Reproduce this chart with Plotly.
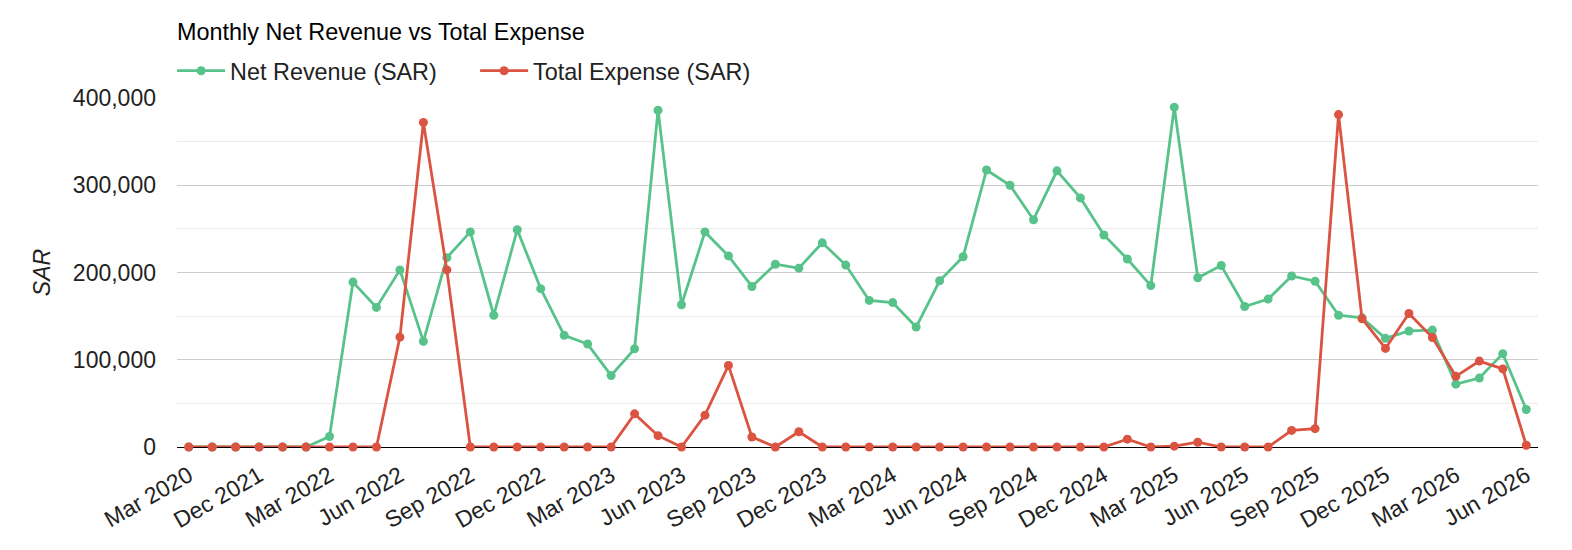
import plotly.graph_objects as go

months = [
    "Mar 2020", "Oct 2021", "Nov 2021", "Dec 2021", "Jan 2022", "Feb 2022",
    "Mar 2022", "Apr 2022", "May 2022", "Jun 2022", "Jul 2022", "Aug 2022",
    "Sep 2022", "Oct 2022", "Nov 2022", "Dec 2022", "Jan 2023", "Feb 2023",
    "Mar 2023", "Apr 2023", "May 2023", "Jun 2023", "Jul 2023", "Aug 2023",
    "Sep 2023", "Oct 2023", "Nov 2023", "Dec 2023", "Jan 2024", "Feb 2024",
    "Mar 2024", "Apr 2024", "May 2024", "Jun 2024", "Jul 2024", "Aug 2024",
    "Sep 2024", "Oct 2024", "Nov 2024", "Dec 2024", "Jan 2025", "Feb 2025",
    "Mar 2025", "Apr 2025", "May 2025", "Jun 2025", "Jul 2025", "Aug 2025",
    "Sep 2025", "Oct 2025", "Nov 2025", "Dec 2025", "Jan 2026", "Feb 2026",
    "Mar 2026", "Apr 2026", "May 2026", "Jun 2026",
]

net_revenue = [
    0, 0, 0, 0, 0, 0,
    12000, 189000, 160000, 203000, 121000, 217000,
    246500, 151000, 249000, 181500, 128000, 118000,
    82000, 112500, 386000, 163000, 246500, 219000,
    184000, 209500, 205000, 234000, 208500, 168000,
    165500, 137500, 190500, 218000, 317500, 300000,
    260500, 316500, 285500, 243000, 215500, 185000,
    389500, 194000, 208000, 161000, 169500, 196000,
    190000, 151000, 148000, 124500, 133000, 134000,
    72000, 79000, 107000, 43000,
]

total_expense = [
    0, 0, 0, 0, 0, 0,
    0, 0, 0, 126000, 372000, 203000,
    0, 0, 0, 0, 0, 0,
    0, 38000, 13000, 0, 36500, 93500,
    11500, 0, 17500, 0, 0, 0,
    0, 0, 0, 0, 0, 0,
    0, 0, 0, 0, 9000, 0,
    1000, 5500, 0, 0, 0, 19000,
    21000, 381000, 147000, 113000, 153000, 125500,
    81000, 98500, 89500, 2000,
]

y_ticks = [0, 100000, 200000, 300000, 400000]
x_ticks = months[::3]

GREEN = "#57C38B"
RED = "#DA5441"
FONT = "Liberation Sans, Arial, sans-serif"

fig = go.Figure()
fig.add_trace(go.Scatter(
    x=months, y=net_revenue, name="Net Revenue (SAR)", mode="lines+markers",
    line=dict(color=GREEN, width=2.8), marker=dict(color=GREEN, size=9),
    cliponaxis=False,
))
fig.add_trace(go.Scatter(
    x=months, y=total_expense, name="Total Expense (SAR)", mode="lines+markers",
    line=dict(color=RED, width=2.8), marker=dict(color=RED, size=9),
    cliponaxis=False,
))

fig.update_layout(
    width=1572, height=550,
    margin=dict(l=176.6, r=34.2, t=98.3, b=103.3, pad=0, autoexpand=False),
    paper_bgcolor="white", plot_bgcolor="white",
    font=dict(family=FONT, size=23, color="#222222"),
    title=dict(text="Monthly Net Revenue vs Total Expense", x=0, xref="paper",
               xanchor="left", y=1 - 31.7 / 550, yref="container", yanchor="middle",
               font=dict(family=FONT, size=23.4, color="#000000")),
    legend=dict(orientation="h", x=-0.0036, xanchor="left", y=1 - 71 / 550,
                yref="container", yanchor="middle", itemwidth=48,
                font=dict(family=FONT, size=23.4, color="#222222"),
                entrywidth=240, entrywidthmode="pixels"),
    showlegend=True,
    hovermode="closest",
)

fig.update_xaxes(
    type="category", range=[-0.5, len(months) - 0.5],
    tickmode="array", tickvals=x_ticks, ticktext=x_ticks,
    tickangle=-30, showgrid=False, showline=False, zeroline=False,
    ticks="", ticklabelstandoff=10,
    tickfont=dict(family=FONT, size=23, color="#222222"),
)
fig.update_yaxes(
    range=[0, 400000], tickmode="array", tickvals=y_ticks, tickformat=",",
    showgrid=True, gridcolor="#cccccc", gridwidth=1,
    minor=dict(dtick=50000, showgrid=True, gridcolor="#ebebeb", gridwidth=1),
    zeroline=True, zerolinecolor="#000000", zerolinewidth=1,
    showline=False, ticks="", ticklabelstandoff=20,
    tickfont=dict(family=FONT, size=23, color="#222222"),
    title=dict(text="SAR", standoff=15,
               font=dict(family=FONT, size=23, color="#222222", style="italic")),
)

fig.write_html("out.html")
